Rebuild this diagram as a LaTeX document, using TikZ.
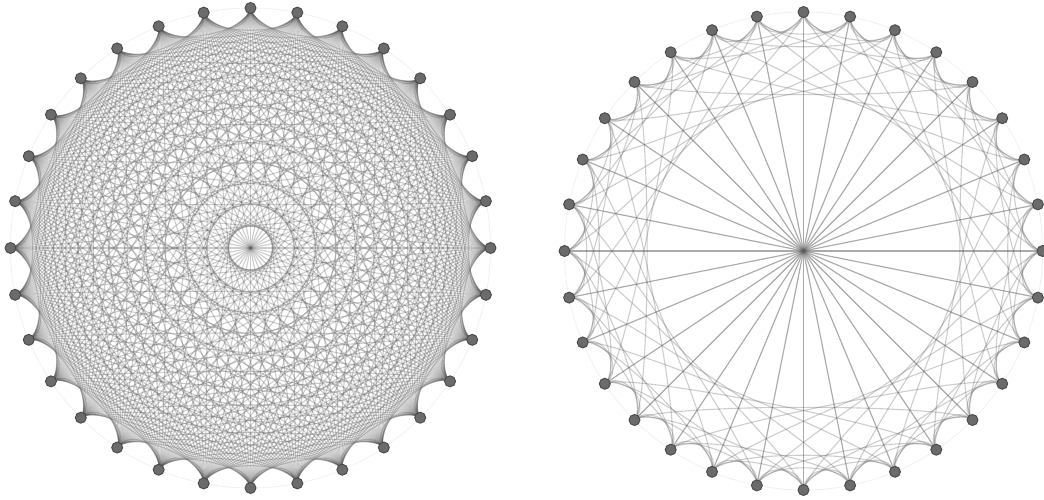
\documentclass[tikz,border=0pt]{standalone}
\usetikzlibrary{backgrounds}
\definecolor{nodefill}{HTML}{6B6B6B}
\definecolor{nodeedge}{HTML}{484848}
\definecolor{rimc}{HTML}{F0F0F0}
\tikzset{
  vertex/.style={circle, inner sep=0pt, minimum size=11pt, fill=nodefill, draw=nodeedge, line width=0.9pt},
  edgeline/.style={draw=black!65, draw opacity=0.3, line width=1.1pt},
  rim/.style={draw=rimc, line width=0.8pt},
}
% curved connector: control points are the end points pulled towards the centre
\newcommand\bentedge[4]{% prefix, i, j, radius
  \pgfmathsetmacro\ai{90-11.25*#2}%
  \pgfmathsetmacro\aj{90-11.25*#3}%
  \pgfmathsetmacro\rc{0.9*#4}%
  \draw[edgeline] (#1#2.center) .. controls (\ai:\rc) and (\aj:\rc) .. (#1#3.center);%
}
\begin{document}
\begin{tikzpicture}[x=1pt,y=1pt]
\useasboundingbox (0,0) rectangle (1044,500);
% left: complete graph on 32 vertices
\begin{scope}[shift={(250.5,252)}]
  \draw[rim] (0,0) circle (240);
  \foreach \k in {0,...,31}{
    \node[vertex] (L\k) at ({90-11.25*\k}:240) {};
  }
  \begin{pgfonlayer}{background}
    \foreach \i in {0,...,30}{
      \pgfmathtruncatemacro\s{\i+1}
      \foreach \j in {\s,...,31}{
        \bentedge{L}{\i}{\j}{240}
      }
    }
  \end{pgfonlayer}
\end{scope}
% right: circulant graph with jumps 1,2,4,8,16
\begin{scope}[shift={(803.5,249)}]
  \draw[rim] (0,0) circle (239);
  \foreach \k in {0,...,31}{
    \node[vertex] (R\k) at ({90-11.25*\k}:239) {};
  }
  \begin{pgfonlayer}{background}
    \foreach \i in {0,...,31}{
      \foreach \d in {1,2,4,8,16}{
        \pgfmathtruncatemacro\t{\i+\d}
        \ifnum\t>31 \pgfmathtruncatemacro\t{\t-32}\fi
        \bentedge{R}{\i}{\t}{239}
      }
    }
  \end{pgfonlayer}
\end{scope}
\end{tikzpicture}
\end{document}
